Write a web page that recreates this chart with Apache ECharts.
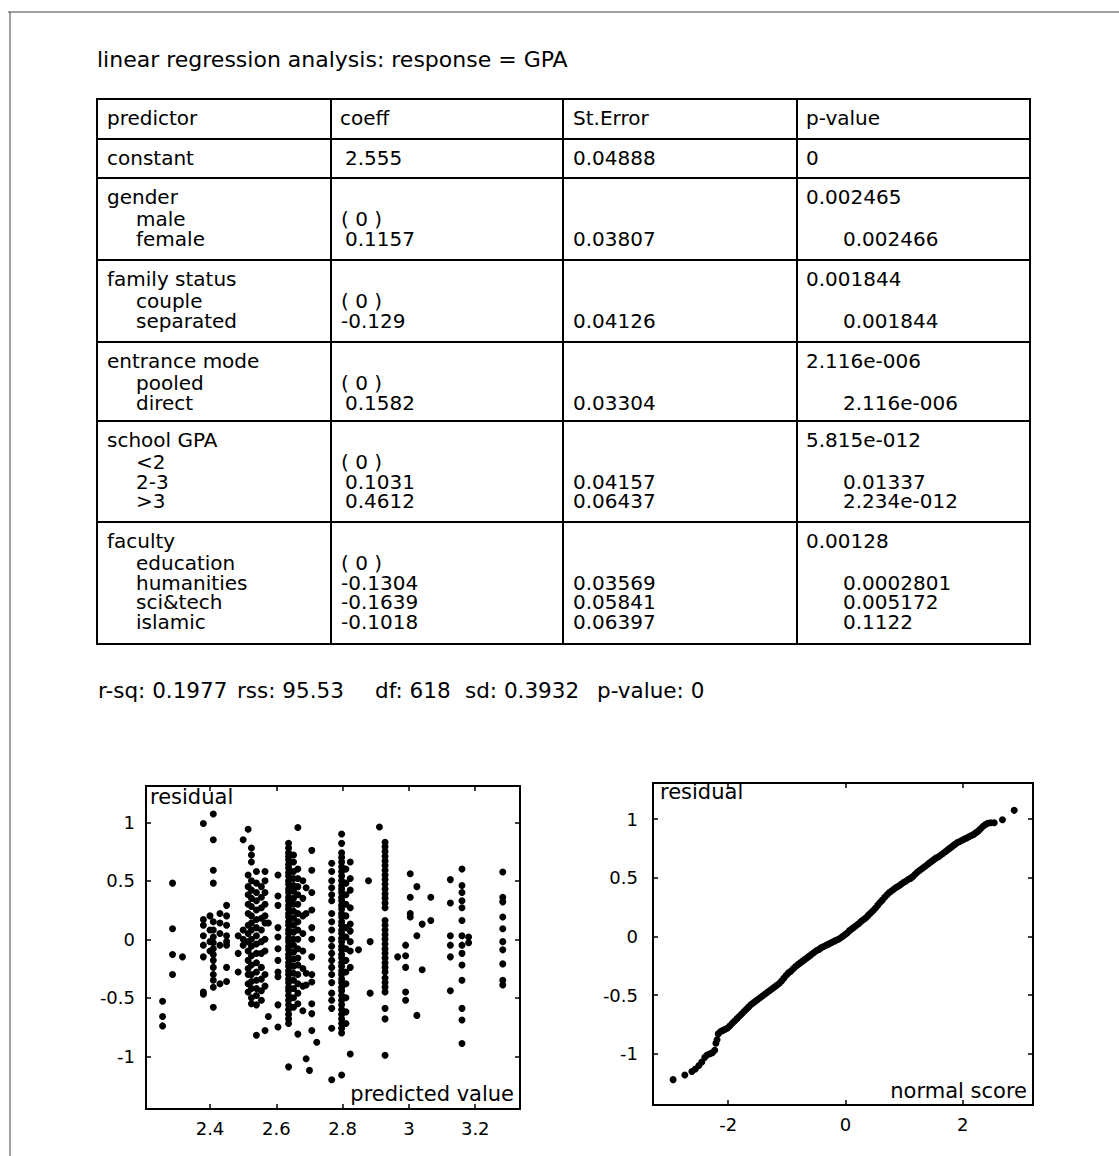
<!DOCTYPE html>
<html><head><meta charset="utf-8">
<script src="https://cdn.jsdelivr.net/npm/echarts@6/dist/echarts.min.js"></script>
<style>html,body{margin:0;padding:0;background:#fff;}#c{width:1119px;height:1156px;}</style>
</head><body><div id="c"></div>
<script>
// ---------------- data ----------------
const tableTitle = 'linear regression analysis: response = GPA';
const tableHeaders = ['predictor', 'coeff', 'St.Error', 'p-value'];
const predictorCol = [
  ['constant'],
  ['gender', 'male', 'female'],
  ['family status', 'couple', 'separated'],
  ['entrance mode', 'pooled', 'direct'],
  ['school GPA', '<2', '2-3', '>3'],
  ['faculty', 'education', 'humanities', 'sci&tech', 'islamic']
];
const coeffCol = [
  ['2.555'],
  ['', '( 0 )', '0.1157'],
  ['', '( 0 )', '-0.129'],
  ['', '( 0 )', '0.1582'],
  ['', '( 0 )', '0.1031', '0.4612'],
  ['', '( 0 )', '-0.1304', '-0.1639', '-0.1018']
];
const stErrorCol = [
  ['0.04888'],
  ['', '', '0.03807'],
  ['', '', '0.04126'],
  ['', '', '0.03304'],
  ['', '', '0.04157', '0.06437'],
  ['', '', '0.03569', '0.05841', '0.06397']
];
const pValueCol = [
  ['0'],
  ['0.002465', '', '0.002466'],
  ['0.001844', '', '0.001844'],
  ['2.116e-006', '', '2.116e-006'],
  ['5.815e-012', '', '0.01337', '2.234e-012'],
  ['0.00128', '', '0.0002801', '0.005172', '0.1122']
];
const fitStats = ['r-sq: 0.1977', 'rss: 95.53', 'df: 618', 'sd: 0.3932', 'p-value: 0'];

// residual vs predicted value: predicted levels and the residuals seen at each level
const predictedLevels = [2.257, 2.287, 2.317, 2.38, 2.40, 2.41, 2.43, 2.45, 2.485, 2.50,
  2.515, 2.525, 2.54, 2.555, 2.566, 2.576, 2.605, 2.637, 2.652, 2.665,
  2.68, 2.69, 2.70, 2.707, 2.722, 2.767, 2.797, 2.81, 2.823, 2.848,
  2.878, 2.883, 2.911, 2.928, 2.966, 2.99, 3.004, 3.024, 3.04, 3.066,
  3.125, 3.16, 3.18, 3.283];
const residualsByLevel = [
  [-0.53, -0.66, -0.74],
  [0.48, 0.09, -0.13, -0.30],
  [-0.15],
  [0.99, 0.17, 0.12, 0.03, -0.05, -0.15, -0.45, -0.47],
  [0.20, 0.08, -0.02, -0.10],
  [1.07, 0.85, 0.59, 0.48, 0.15, 0.08, 0.02, -0.03, -0.08, -0.13, -0.18, -0.24, -0.30, -0.35, -0.41, -0.58],
  [0.22, 0.14, 0.05, -0.05, -0.38],
  [0.29, 0.20, 0.12, 0.03, -0.02, -0.05, -0.24, -0.36],
  [0.03, -0.12, -0.28],
  [0.85, 0.08, 0.00, -0.05],
  [0.94, 0.55, 0.45, 0.38, 0.30, 0.22, 0.12, 0.05, -0.02, -0.10, -0.18, -0.25, -0.30, -0.38, -0.45],
  [0.78, 0.72, 0.66, 0.50, 0.42, 0.35, 0.28, 0.20, 0.14, 0.08, 0.00, -0.06, -0.14, -0.22, -0.30, -0.36, -0.42, -0.50, -0.55],
  [0.58, 0.48, 0.40, 0.33, 0.25, 0.17, 0.10, 0.03, -0.04, -0.12, -0.20, -0.28, -0.35, -0.42, -0.48, -0.56, -0.82],
  [0.45, 0.36, 0.27, 0.18, 0.08, -0.02, -0.12, -0.24, -0.34, -0.44, -0.52],
  [0.58, 0.50, 0.40, 0.30, 0.20, 0.14, 0.00, -0.10, -0.30, -0.40, -0.78],
  [0.14, -0.66],
  [0.55, 0.37, 0.29, 0.10, 0.02, -0.08, -0.18, -0.28, -0.32, -0.56, -0.75],
  [0.82, 0.78, 0.74, 0.71, 0.68, 0.64, 0.61, 0.57, 0.54, 0.50, 0.47, 0.43, 0.40, 0.36, 0.33, 0.29, 0.26, 0.22, 0.19, 0.15, 0.12, 0.08, 0.05, 0.01, -0.02, -0.06, -0.09, -0.13, -0.16, -0.20, -0.23, -0.27, -0.30, -0.34, -0.37, -0.41, -0.44, -0.48, -0.52, -0.56, -0.60, -0.64, -0.68, -0.72, -1.09],
  [0.72, 0.66, 0.58, 0.52, 0.46, 0.41, 0.35, 0.30, 0.24, 0.18, 0.12, 0.06, 0.00, -0.05, -0.11, -0.17, -0.23, -0.29, -0.35, -0.42, -0.50, -0.58],
  [0.955, 0.60, 0.52, 0.45, 0.38, 0.30, 0.22, 0.15, 0.08, 0.00, -0.08, -0.16, -0.22, -0.30, -0.38, -0.46, -0.55, -0.81],
  [0.50, 0.35, 0.20, 0.05, -0.10, -0.25, -0.40, -0.61],
  [0.44, 0.22, -0.29, -0.39, -1.02],
  [-1.12],
  [0.76, 0.59, 0.40, 0.25, 0.10, 0.00, -0.15, -0.30, -0.365, -0.55, -0.635, -0.78],
  [-0.88],
  [0.65, 0.58, 0.50, 0.44, 0.38, 0.33, 0.22, 0.15, 0.08, 0.00, -0.06, -0.12, -0.18, -0.24, -0.30, -0.37, -0.46, -0.52, -0.59, -0.76, -1.20],
  [0.90, 0.82, 0.74, 0.70, 0.66, 0.62, 0.58, 0.54, 0.50, 0.46, 0.43, 0.40, 0.36, 0.33, 0.29, 0.26, 0.22, 0.19, 0.15, 0.12, 0.08, 0.05, 0.01, -0.02, -0.06, -0.09, -0.13, -0.16, -0.20, -0.23, -0.27, -0.30, -0.34, -0.37, -0.41, -0.44, -0.48, -0.52, -0.56, -0.60, -0.64, -0.68, -0.72, -0.76, -0.80, -1.16],
  [0.60, 0.48, 0.38, 0.30, 0.20, 0.10, 0.02, -0.08, -0.18, -0.28, -0.38, -0.50, -0.62, -0.72],
  [0.66, 0.52, 0.42, 0.27, 0.13, 0.07, -0.02, -0.10, -0.24, -0.98],
  [-0.09],
  [0.50],
  [-0.02, -0.46],
  [0.96],
  [0.83, 0.79, 0.75, 0.71, 0.67, 0.63, 0.59, 0.55, 0.51, 0.47, 0.43, 0.39, 0.35, 0.31, 0.27, 0.16, 0.12, 0.08, 0.04, 0.00, -0.04, -0.08, -0.12, -0.16, -0.20, -0.24, -0.28, -0.33, -0.37, -0.41, -0.45, -0.59, -0.68, -0.99],
  [-0.15],
  [-0.05, -0.14, -0.24, -0.45, -0.52],
  [0.56, 0.36, 0.22, 0.19],
  [0.45, 0.03, -0.65],
  [0.13, -0.26],
  [0.36, 0.16],
  [0.51, 0.31, 0.03, -0.05, -0.15, -0.44],
  [0.60, 0.46, 0.40, 0.33, 0.27, 0.16, 0.03, -0.05, -0.12, -0.22, -0.35, -0.59, -0.69, -0.89],
  [0.02, -0.03],
  [0.575, 0.36, 0.32, 0.19, 0.09, -0.02, -0.09, -0.21, -0.35, -0.39]
];

// residual vs normal score
const normalScores = [-2.94, -2.74, -2.62, -2.56, -2.50, -2.45, -2.40, -2.36, -2.31, -2.27, -2.23, -2.21, -2.19, -2.17, -2.13, -2.09, -2.05, -2.01, -1.97, -1.93,
  -1.89, -1.85, -1.81, -1.77, -1.73, -1.69, -1.65, -1.61, -1.57, -1.53, -1.49, -1.45, -1.41, -1.37, -1.33, -1.29, -1.25, -1.21, -1.17, -1.13,
  -1.09, -1.05, -1.01, -0.97, -0.93, -0.89, -0.85, -0.81, -0.77, -0.73, -0.69, -0.65, -0.61, -0.57, -0.53, -0.49, -0.45, -0.41, -0.37, -0.33,
  -0.29, -0.25, -0.21, -0.17, -0.13, -0.09, -0.05, -0.01, 0.03, 0.07, 0.11, 0.15, 0.19, 0.23, 0.27, 0.31, 0.35, 0.39, 0.43, 0.47,
  0.51, 0.55, 0.59, 0.63, 0.67, 0.71, 0.75, 0.79, 0.83, 0.87, 0.91, 0.95, 0.99, 1.03, 1.07, 1.11, 1.15, 1.19, 1.23, 1.27,
  1.31, 1.35, 1.39, 1.43, 1.47, 1.51, 1.55, 1.59, 1.63, 1.67, 1.71, 1.75, 1.79, 1.83, 1.87, 1.91, 1.95, 1.99, 2.03, 2.07,
  2.11, 2.15, 2.19, 2.23, 2.27, 2.31, 2.35, 2.39, 2.43, 2.48, 2.54, 2.68, 2.88];
const qqResiduals = [-1.22, -1.18, -1.15, -1.13, -1.10, -1.07, -1.03, -1.01, -1.00, -0.99, -0.97, -0.91, -0.88, -0.83, -0.81, -0.80, -0.79, -0.78, -0.76, -0.74,
  -0.72, -0.70, -0.68, -0.66, -0.64, -0.62, -0.60, -0.58, -0.565, -0.55, -0.535, -0.52, -0.505, -0.49, -0.475, -0.46, -0.445, -0.43, -0.415, -0.40,
  -0.38, -0.355, -0.33, -0.31, -0.295, -0.275, -0.255, -0.24, -0.225, -0.21, -0.195, -0.18, -0.165, -0.15, -0.135, -0.12, -0.11, -0.095, -0.085, -0.075,
  -0.065, -0.055, -0.045, -0.035, -0.025, -0.015, 0.00, 0.015, 0.03, 0.05, 0.065, 0.08, 0.095, 0.11, 0.13, 0.145, 0.16, 0.18, 0.20, 0.22,
  0.24, 0.265, 0.29, 0.31, 0.335, 0.355, 0.375, 0.39, 0.405, 0.42, 0.43, 0.445, 0.46, 0.47, 0.485, 0.495, 0.51, 0.53, 0.55, 0.565,
  0.58, 0.595, 0.61, 0.625, 0.64, 0.655, 0.67, 0.68, 0.695, 0.71, 0.725, 0.74, 0.755, 0.77, 0.785, 0.80, 0.81, 0.82, 0.83, 0.84,
  0.85, 0.86, 0.87, 0.885, 0.90, 0.92, 0.94, 0.955, 0.965, 0.97, 0.97, 0.995, 1.075];

const predictedTicks = [2.4, 2.6, 2.8, 3, 3.2];
const normalTicks = [-2, 0, 2];
const residualTicks = [-1, -0.5, 0, 0.5, 1];

// ---------------- layout ----------------
const FONT = '"DejaVu Sans", sans-serif';
const colX = [97, 331, 563, 797, 1030];
const rowY = [99, 139, 178, 260, 342, 421, 522, 644];
const statsX = [98, 237, 375, 465, 597];

function txt(s, x, y, size, align, lh) {
  const a = align || 'left';
  return { type: 'text', silent: true, z: 10,
    style: { text: s, x: x, y: y, font: size + 'px ' + FONT, fill: '#000', lineHeight: lh || size,
      textAlign: a, align: a, textVerticalAlign: 'middle', verticalAlign: 'middle' } };
}
function line(x1, y1, x2, y2, w, c) {
  return { type: 'line', silent: true, z: 5, shape: { x1, y1, x2, y2 },
    style: { stroke: c || '#000', lineWidth: w || 2 } };
}

const g = [];
// page frame
g.push(line(8, 12, 1119, 12, 1, '#444'));
g.push(line(10, 12, 10, 1156, 1, '#444'));
// title
g.push(txt(tableTitle, 97, 59, 22));
// table grid
g.push({ type: 'rect', silent: true, z: 5, shape: { x: colX[0], y: rowY[0], width: colX[4] - colX[0], height: rowY[7] - rowY[0] },
  style: { fill: 'none', stroke: '#000', lineWidth: 2 } });
for (let i = 1; i < 4; i++) g.push(line(colX[i], rowY[0], colX[i], rowY[7]));
for (let j = 1; j < 7; j++) g.push(line(colX[0], rowY[j], colX[4], rowY[j]));
// header
const headerX = [107, 340, 573, 806];
const BODY = 20;
const LH = 17;
tableHeaders.forEach((h, i) => g.push(txt(h, headerX[i], rowY[0] + 19, BODY, 'left', LH)));
// body
function lineY(r, i) {
  const top = rowY[r + 1];
  return i === 0 ? top + 19 : top + 41 + 19.5 * (i - 1);
}
predictorCol.forEach((lines, r) => lines.forEach((s, i) => {
  if (s) g.push(txt(s, i === 0 ? 107 : 136, lineY(r, i), BODY, 'left', LH));
}));
coeffCol.forEach((lines, r) => lines.forEach((s, i) => {
  if (s) g.push(txt(s, (s[0] === '-' || s[0] === '(') ? 341 : 345, lineY(r, i), BODY, 'left', LH));
}));
stErrorCol.forEach((lines, r) => lines.forEach((s, i) => {
  if (s) g.push(txt(s, 573, lineY(r, i), BODY, 'left', LH));
}));
pValueCol.forEach((lines, r) => lines.forEach((s, i) => {
  if (s) g.push(txt(s, i === 0 ? 806 : 843, lineY(r, i), BODY, 'left', LH));
}));
// fit statistics
fitStats.forEach((s, i) => g.push(txt(s, statsX[i], 690, 21.5)));
// plot captions
g.push(txt('residual', 150, 797, 21));
g.push(txt('predicted value', 514, 1094, 21, 'right'));
g.push(txt('residual', 660, 792, 21));
g.push(txt('normal score', 1027, 1091, 21, 'right'));

// ---------------- scatter data ----------------
const residPts = [];
predictedLevels.forEach((x, i) => residualsByLevel[i].forEach(y => residPts.push([x, y])));
const qqPts = normalScores.map((x, i) => [x, qqResiduals[i]]);

// ---------------- axes ----------------
const AX = { color: '#000', width: 2 };
function xAx(grid, min, max, ticks, top) {
  return { type: 'value', gridIndex: grid, min, max, position: top ? 'top' : 'bottom',
    axisLine: { show: true, onZero: false, lineStyle: AX },
    axisTick: { show: true, inside: true, length: 5, customValues: ticks, lineStyle: { color: '#000', width: 1.5 } },
    axisLabel: { show: !top, customValues: ticks, color: '#000', fontSize: 18, fontFamily: FONT, margin: 10, formatter: v => String(v) },
    splitLine: { show: false } };
}
function yAx(grid, min, max, ticks, right, margin) {
  return { type: 'value', gridIndex: grid, min, max, position: right ? 'right' : 'left',
    axisLine: { show: true, onZero: false, lineStyle: AX },
    axisTick: { show: true, inside: true, length: 5, customValues: ticks, lineStyle: { color: '#000', width: 1.5 } },
    axisLabel: { show: !right, customValues: ticks, color: '#000', fontSize: 18, fontFamily: FONT, margin: margin || 10, formatter: v => String(v) },
    splitLine: { show: false } };
}

const chart = echarts.init(document.getElementById('c'), null, { renderer: 'svg', width: 1119, height: 1156 });
chart.setOption({
  backgroundColor: '#fff',
  animation: false,
  grid: [
    { left: 146, top: 786, width: 374, height: 323 },
    { left: 653, top: 783, width: 380, height: 322 }
  ],
  xAxis: [
    xAx(0, 2.207, 3.335, predictedTicks, false),
    xAx(0, 2.207, 3.335, predictedTicks, true),
    xAx(1, -3.283, 3.201, normalTicks, false),
    xAx(1, -3.283, 3.201, normalTicks, true)
  ],
  yAxis: [
    yAx(0, -1.45, 1.31, residualTicks, false, 11),
    yAx(0, -1.45, 1.31, residualTicks, true),
    yAx(1, -1.436, 1.308, residualTicks, false, 15),
    yAx(1, -1.436, 1.308, residualTicks, true)
  ],
  series: [
    { type: 'scatter', xAxisIndex: 0, yAxisIndex: 0, data: residPts, symbol: 'circle', symbolSize: 7,
      itemStyle: { color: '#000', opacity: 1 }, silent: true },
    { type: 'scatter', xAxisIndex: 2, yAxisIndex: 2, data: qqPts, symbol: 'circle', symbolSize: 7,
      itemStyle: { color: '#000', opacity: 1 }, silent: true }
  ],
  graphic: g
});
</script>
</body></html>
